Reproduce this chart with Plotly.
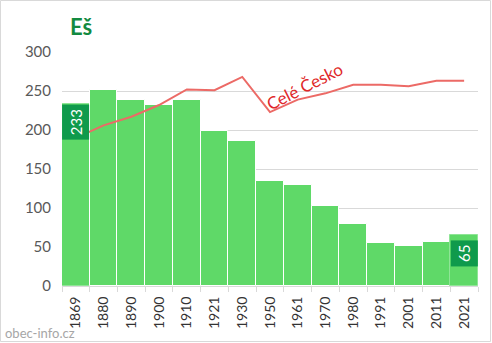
import plotly.graph_objects as go

years = ["1869", "1880", "1890", "1900", "1910", "1921", "1930", "1950",
         "1961", "1970", "1980", "1991", "2001", "2011", "2021"]
population = [233, 251, 239, 232, 239, 199, 186, 134, 130, 103, 80, 55, 51, 56, 65]
czechia_scaled = [190, 206, 217, 232, 252, 251, 268, 223, 239, 247, 258, 258, 256, 263, 263]
title_text = "Eš"
line_label = "Celé Česko"
source_text = "obec-info.cz"

W, H = 492, 343
L, R, T, B = 62, 14, 52, 57
pw, ph = W - L - R, H - T - B

def px(x):
    return (x - L) / pw

def py(y):
    return (H - B - y) / ph

bar_line_colors = ["#8fe596" if i in (0, len(years) - 1) else "white" for i in range(len(years))]

fig = go.Figure()
fig.add_trace(go.Bar(
    x=years, y=population,
    marker=dict(color="#5fd968", line=dict(color=bar_line_colors, width=1)),
    hoverinfo="skip",
))
fig.add_trace(go.Scatter(
    x=years, y=czechia_scaled, mode="lines",
    line=dict(color="#ec6a66", width=2),
    hoverinfo="skip",
))

annotations = [
    dict(text=f"<b>{title_text}</b>", xref="paper", yref="paper",
         x=px(68), y=py(27), xanchor="left", yanchor="middle",
         showarrow=False, font=dict(family="Lato", size=22, color="#138a41")),
    dict(text=line_label, xref="paper", yref="paper",
         x=px(304), y=py(86), xanchor="center", yanchor="middle",
         textangle=-27, showarrow=False,
         font=dict(family="Lato", size=17, color="#e0282a")),
    dict(text=source_text, xref="paper", yref="paper",
         x=px(3), y=py(333), xanchor="left", yanchor="middle",
         showarrow=False, font=dict(family="Lato", size=13, color="#a6a6a6")),
]
for idx, yoff in ((0, 0), (len(years) - 1, 5)):
    v = population[idx]
    annotations.append(dict(
        text=str(v), x=idx, y=v, yref="y", xref="x",
        yanchor="top", xanchor="center", yshift=-yoff,
        textangle=-90, showarrow=False,
        bgcolor="#0f9a4c", borderpad=4,
        font=dict(family="Lato", size=15, color="white"),
    ))

fig.update_layout(
    width=W, height=H,
    margin=dict(l=L, r=R, t=T, b=B),
    paper_bgcolor="white", plot_bgcolor="white",
    showlegend=False, bargap=0,
    annotations=annotations,
    shapes=[dict(type="rect", xref="paper", yref="paper",
                 x0=px(0.5), x1=px(W - 1.5), y0=py(0.5), y1=py(H - 1.5),
                 line=dict(color="#d9d9d9", width=1), layer="above")],
    xaxis=dict(
        type="category", tickangle=-90, showgrid=False,
        range=[-0.5, len(years) - 0.5],
        showline=True, linecolor="#d9d9d9", linewidth=1,
        ticks="outside", tickson="boundaries", ticklen=5, tickcolor="#d9d9d9",
        ticklabelstandoff=4,
        tickfont=dict(family="Lato", size=14, color="#333333"),
        fixedrange=True,
    ),
    yaxis=dict(
        range=[0, 300], tickvals=[0, 50, 100, 150, 200, 250, 300],
        showgrid=True, gridcolor="#d9d9d9", gridwidth=1,
        zeroline=False, showline=False,
        ticklabelstandoff=10,
        tickfont=dict(family="Lato", size=15, color="#595959"),
        fixedrange=True,
    ),
)

fig.write_html("out.html")
